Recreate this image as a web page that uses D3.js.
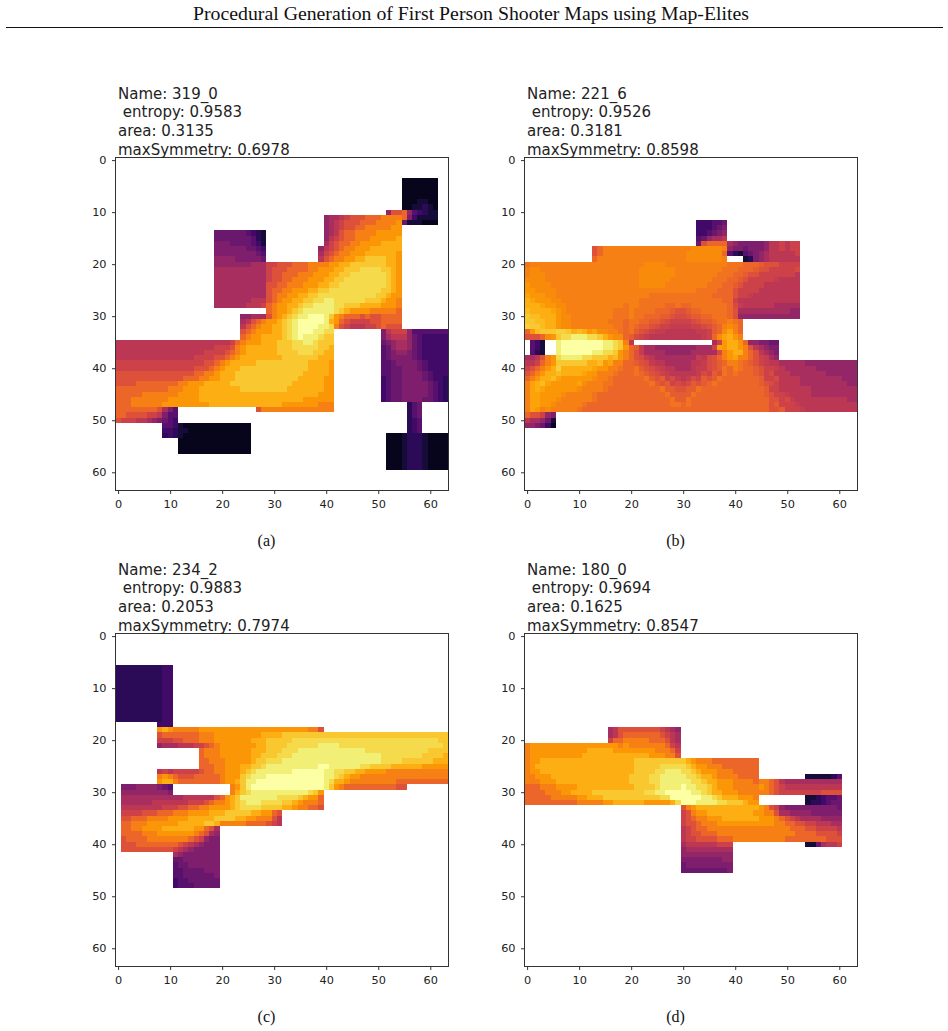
<!DOCTYPE html>
<html>
<head>
<meta charset="utf-8">
<script src="https://cdnjs.cloudflare.com/ajax/libs/d3/7.8.5/d3.min.js"></script>
<style>
html,body{margin:0;padding:0;background:#fff}
svg{display:block}
</style>
</head>
<body>
<svg id="page" width="948" height="1031"></svg>
<script>
// Paper header and sub-figure captions.
const pageTitle = "Procedural Generation of First Person Shooter Maps using Map-Elites";
const captions = ["(a)", "(b)", "(c)", "(d)"];

// Map-Elites descriptors of the four elite maps.
const names = ["319_0", "221_6", "234_2", "180_0"];
const entropy = ["0.9583", "0.9526", "0.9883", "0.9694"];
const area = ["0.3135", "0.3181", "0.2053", "0.1625"];
const maxSymmetry = ["0.6978", "0.8598", "0.7974", "0.8547"];
const tickValues = [0, 10, 20, 30, 40, 50, 60];

// Heat levels per grid row. '.' is a wall, 0-9 then a-k are the levels,
// a capital letter sits half a step above its lower-case level.
// "NN:" gives the column of a row's first character; spaces only group columns.
const firstRow = [4, 12, 6, 18];

const heat319 = [
"50:.....11111 11",
"50:.....11111 11",
"50:.....11111 11",
"50:.....11111 11",
"50:.....11122 11",
"50:.....11223 21",
"50:..8ccd8543 22",
"40:899abcccdd deeeed7422 22",
"40:89abcccddd eeeef62221 11",
"40:89abccddee eeeff",
"10:.........6 666665432. .......... 89acddeeee fffff",
"10:.........6 666666532. .......... 8abcddeeef ffffg",
"10:.........7 776666542. .......... 9bcddeefff fgggg",
"10:.........7 777776654. .........8 abcdeefffg ggggg",
"10:.........7 777777765. .........9 bcdeefffgg ggggf",
"10:.........8 888777776. .........a cdeeffgghh hhggf",
"10:.........8 888888999b bcccdddeee effgghhhhh hhggf",
"10:.........9 999999999b cccddddeef ffgghhhiii ihhgf",
"10:.........9 999999999b ccdddeeeff fgghhiiiii iihgf",
"10:.........9 999999999b ccddeeefff gghhiiiiii iihgf",
"10:.........9 999999999c cddeeefffg ghhiiiiiii iihgf",
"10:.........9 999999999c ddeefffggh hiiiiiiiii ihhgf",
"10:.........9 999999999c deeffgghhi iiiiiiiiii hhgff",
"10:.........9 999999aaac deffgghhii jjiiiiiihh hgffe",
"10:.........9 99999aaabd effgghiijj jjiihhhggg gfffe",
"20:.........d effghijjjj jjihgffffe eeeed",
"20:....88999c efghijjkkk jhfedddcdc cdddd",
"20:....9acdef fghijkkkkk jgfdcbbbbc cdddd",
"20:....acdeff gghijkkkkj jiecbaaabb cdccc",
"20:....cdefff gghijkkkjj ii........ .7abbb8555 5555",
"20:....deffgg gghijkjjji hh........ .79aaa8654 4444",
"aaaaaaaaaa aaaaaaaaaa aabdefffgg ghhhiijjih hh........ .678998654 4444",
"aaaaaaaaaa aaaaaaaaab bbcefggggg ghhhiiiiih hg........ .568998654 4444",
"aaaaaaaaaa aaaaaaabbb bcdefggggg ghhhhiiihh gg........ .567887654 4444",
"aaaaaaaaaa aaaaabbbbc cdefgggggg gghhhhhhhg gg........ .567777654 4444",
"bbbbbbbbbb bbbbbbbccd efggggghhh hhhhhhhggg gf........ .556777765 4444",
"bbbbbbbbbb bbbbbcccde fggghhhhhh hhhhhhhggg gf........ .556677765 4444",
"cccccccccc cccccddeef ggghhhhhhh hhhhhhgggg gf........ .556677776 5444",
"cccccccccc cccdddeeff ggghhhhhhh hhhhhggggg ff........ .456677776 5443",
"ccccdddddd ddeefffggg gghhhhhhhh hhhhgggggg ff........ .456677777 6543",
"dddddddddd eeefffgggg gggghhhhhh hhhggggggg ff........ .456677777 6543",
"dddddeeeee eeffffgggg gggggggggg gggggggggf ff........ .456677777 6543",
"dddeeeeeee ffffffgggg gggggggggg ggggggffff ff........ .456677776 6543",
"dddeeeeeef ffffffffgg gggggggggg ggfffffffe ee........ ......356.",
"ddddddddc9 75........ .......cee eeeeeeeeee ee........ ......356.",
"ddccccbba7 55........ .......... .......... .......... ......356.",
"cbbbaa9876 54........ .......... .......... .......... ......345.",
".........5 5421111111 111111.... .......... .......... ......345.",
".........4 4322111111 111111.... .......... .......... ......345.",
".........3 4321111111 111111.... .......... .......... ..11123332 1111",
"10:..11111111 111111.... .......... .......... ..11123332 1111",
"10:..11111111 111111.... .......... .......... ..11123332 1111",
"10:..11111111 111111.... .......... .......... ..11123332 1111",
"50:..11123332 1111",
"50:..11123332 1111",
"50:..11123332 1111"
];

const heat221 = [
"30:...444556",
"30:...444567",
"30:...445678",
"30:...56899a",
"30:...6cdddd9 8777778aab abb",
"10:...cdeeeee eeeeeeeeee eeEEEEEEe8 7767778aab abb",
"10:...cdeeeee eeeeeeeeee eEEEEEEEd5 3256789aaa aab",
"10:...deeeeee eeeeeeeeee eEEEEEEEe. ..23789aaa aaa",
"Deeeeeeeee eeeeeeeeee eeeEEEEeee eeeeeeeeeD DDdddCcccb bbb",
"eEEeeeeeee eeeeeeeeee eeEEEEEEEe eeeeeeeeDD DdddCccbbb bbB",
"eEEEeeeeee eeeeeeeeee eeEEEEEEEe eeeeeeeDDD ddCccbbbbb bba",
"EEEEeeeeee eeeeeeeeee eeEEEEEEee eeeeeeDDDd dCcbbbbbAa aaa",
"fEEEEeeeee eeeeeeeeee eeEEEEEeee eeeeeDDDdd Ccbbbbaaaa aaa",
"ffEEEEeeee eeeeeeeeee eeeeeeeeee eeeDDDDddd cbbbbaaaaa aaa",
"FfffEEeeee eeeeeeeeee eeeeDDDDDD DDDDDDdddd cbbAaaaaaa aaa",
"gFfffEEeee eeeeeeeeee eeDDDDDDDD DDDDDDDDdd baaaaaaaaa aaa",
"gggFffEEee eeeeeeeeeD eeDDDDDddD ddDDDDDDDd BAaaaaaa99 999",
"GggggFfEee eeeeeeeDDD eDDDDdddCc cCddDDDDDd c999999999 988",
"hGGgggfEEe eeeeeeeDDD eDDdddCCcB BcCCddDDDd c888888888 888",
"hhGGggfEEe eeeeeeDDDd DDddCCcBbb bbBcCCdDDe Dd",
"HhhGggfEEe eeeeeeeDDd DdCCcBbbAA AAbbBcCdeE ed",
"dfGhhhHHhg GgfFEEeeDd DCcBbAAaaa aaaAAbCdEF ed",
"cccdEfhiij jjiihgfEEd CBbAaaaaaa aaaaAbdEFg fe",
".542..jkkk kkkkkjjihe a......... ......9bfg gfd887766.",
".542..jkkk kkkkkjjihf dCA9988888 888999bFfg gfeca9877.",
".532..jkkk kkkjjiihfe dcA9999888 8899999Bef ggedca987.",
"99acefijjj jiihhhgGfe dcBAa99999 999AaBcdef FeedcbA98.",
"aabdefhhhh hhggGfFeed dCcBAaa999 99aaABcCde eDdCcbAaa9 9999888888 8888",
"bcdefgHggg gggFffeeDd dDCcBbAaa9 99aAABcCDd eDddCcbbAa 9999998888 8888",
"cdefggGggg gFffeeeDdd dDdCcBbAaa aaaABbCcDd DdddCcbBaa a999999988 8888",
"defggGFfff fffEeeDddd dddDCcCbBA aABbCcCDdd dddddCbbBa aaa9999999 9888",
"eFgGFfffff FEeeeDDddd ddddDCcCbB bBCcCdDddd dddddCcBba aaa9999999 9988",
"eFgFffffff EeeeeDdddd ddddddDCCc cCCDdddddd ddddddCbba aaaaa99999 9999",
"eFFffffEee eeeDdddddd dddddddDCC CCDddddddd ddddddCcbb Aaaaa99999 9999",
"eFFfffEeee eeeDdddddd ddddddddDC CDdddddddd dddddddccb BAaaaaaaaa aa99",
"eFFffEeeee eDdddddddd ddddddddDD dDdddddddd dddddddcCb bbAaaaaaaa aaaa",
"eFfeEeeeee Dddddddddd dddddddddd dddddddddd dddddddccC bbbAaaaaaa aaaa",
"dccb87",
"a99862",
"887641"
];

const heat234 = [
"3333333334 4",
"3333333334 4",
"3333333334 4",
"3333333334 4",
"3333333334 4",
"3333333334 4",
"3333333334 4",
"3333333334 4",
"3333333334 4",
"3333333334 4",
"3333333334 4",
"........44 4",
"........fg feeeeeffff ffffffffff fffffffeec",
"........cd ddddddeeef ffffffffgg gghhhhhhhh hhhhhhhhhh hhhhhhhhhh hhhh",
"........bb bccdddeeef ffffffgggh hhhhiiiiii iiiiiiiiii iiiiiiiiii iihh",
"........89 99aaabbcde fffffffggh hhhiiiiiij jjjiiiiiii iiiiiiiiii iiih",
"10:......deee ffffffgggh hhiiijjjjj jjjjjjjjii iiiiiiiiii hhhh",
"10:......deee ffffffgghh hiiijjjjjj jjjjjjjjjj jiiiiiiiih hhhg",
"10:......ddee efffffghhi iijjjjjjjj jjjjjjjjjj jiiiihhhhh hggg",
"10:......ddde efffgghhij jjjjjjjjjk kjjjjjjiih hhhggggggf ffff",
"........ab abbbbbcdde efffghijjj jjjjkkkkkk jjiihhggff ffeeeeeeee eeee",
"........ef edcccddddd efffhijjjk kkkkkkkkkk jjihgffeee eeeeeeeeee eeee",
"........fg gedddddddd effghjjkkk kkkkkkkkkk jiggfeeeee eeeedddddd dddd",
".777888876 5......... ..efhjkkkk kkkkkkkkkk jhfedddddd ddddcc",
".888888888 7......... ..eghijjjj jjjjjjjihf",
".999999999 999aaaaaac dfghjjjjjj jiiiihgffd",
".999999aaa aaaabbbcde efghijjjii iihhgfeeed",
".aaaaaaaab bbccddeeff ffghiiiihh hhggfeeddc",
".bbbbcccdd deeeffffgg ghhhhhggff dc",
".ccdddeeee ffffgggggh hhhggffeee ca",
".ddeeeffff ffggggghhg eeeeeddddc ba",
".ddeeffffg gggggffdc9",
".ddddeeeff fffffedc98",
".cddddeeee eeeedcb877",
".cccdddddd ddcba98777",
".ccccccccc cba9877777",
"10:.987777777",
"10:.667777777",
"10:.566777777",
"10:.556666777",
"10:.556666667",
"10:.455666666",
"10:.455566666"
];

const heat180 = [
"10:......9acc ccccccba98",
"10:......9acd ddddddcba9",
"10:......bdde eeeedddca9",
"efffffffff ffffffffef eeeeeeedba",
"efffffffff ffgggggfff fffffeeedb",
"efffffffff fggggggggg ggggfffeec",
"effggggggg gggggggggg ghhhhhhhhh hgfeeedddd ddddd",
"efgggggggg gggggggggg ghhhhhiiii ihgffeeedd ddddd",
"effggggggg gggggggggg ghhhhiijjj iihgfffeee ddddd",
"eefffggggg gggggggggg hhhhiijjjj jiihggfeee edddd..... ....222223 5",
"eeefffgggg gggggggggg hhhhiijjjj jjiihggfff eeeedeedca 9999999999 9",
"dddeeeffff gggggggggg ghhhhijjjj kjjiihgfff eeeeefedcb aaaaaaaaaa a",
"ddddeeeffg ggghhhhhhh hhhiijjkkk kkjjihggff feeeeeedcb bbbbbbbccc c",
"dddddeeeee ffggghhhhh hhhhhhiikk kkkkjjihgg gfffe..... ....223455 6",
"dddddddddd eeeeeffggg gggfffffgi kkkjjjjiih hhgff..... ....233456 6",
"30:cefggggggg gggggfecb8 7777777777 6",
"30:bceffggggg ggggffeec9 9888877777 7",
"30:bcdeefffgg gggggfffed cba9999888 8",
"30:bccdeeefff ffffffffee ddccbbaaa9 9",
"30:abcddeeeee eeeeeeeeee edddccbbbb a",
"30:abccdddeee eeeeeeeeee eeddddcccc b",
"30:abbccccddd eeeeeeeeee ddddddddcc c",
"30:9aaaaaabbb .......... ....2269aa b",
"30:8999999999",
"30:8888888888",
"30:7777777788",
"30:6777777777",
"30:6666666667"
];

const heatRows = [heat319, heat221, heat234, heat180];

// Position on the inferno ramp for each level.
const levelChars = "0123456789abcdefghijk";
const levelRamp = [0.02, 0.05, 0.1, 0.15, 0.2, 0.25, 0.3, 0.35, 0.4, 0.45, 0.5, 0.55, 0.6, 0.66, 0.72, 0.77, 0.82, 0.87, 0.91, 0.95, 1];
const gridSize = 64;

const panelLeft = [115.5, 524.5, 115.5, 524.5];
const panelTop = [157.5, 157.5, 633.5, 633.5];
const panelSize = 333;

const svg = d3.select("#page");

// Running header
svg.append("text")
  .attr("x", 471).attr("y", 20)
  .attr("text-anchor", "middle")
  .attr("font-family", "'Liberation Serif'")
  .attr("font-size", 19.8)
  .attr("fill", "#111")
  .text(pageTitle);
svg.append("line")
  .attr("x1", 6).attr("x2", 943).attr("y1", 27.5).attr("y2", 27.5)
  .attr("stroke", "#111").attr("stroke-width", 1.2);

const ramp = d3.scaleLinear().domain(levelRamp.map((_, i) => i)).range(levelRamp);
const color = v => d3.interpolateInferno(ramp(v));

function levelOf(ch) {
  const lower = ch.toLowerCase();
  return levelChars.indexOf(lower) + (ch !== lower ? 0.5 : 0);
}

function parseRow(s) {
  const m = s.match(/^(\d+):(.*)$/);
  const col = m ? +m[1] : 0;
  const body = (m ? m[2] : s).replace(/ /g, "");
  return Array.from(body).map((ch, i) => ({ col: col + i, ch })).filter(d => d.ch !== ".");
}

names.forEach((name, p) => {
  const x = d3.scaleLinear().domain([-0.5, gridSize - 0.5]).range([0, panelSize]);
  const y = d3.scaleLinear().domain([-0.5, gridSize - 0.5]).range([0, panelSize]);
  const g = svg.append("g").attr("transform", `translate(${panelLeft[p]},${panelTop[p]})`);

  const cells = heatRows[p].flatMap((s, i) =>
    parseRow(s).map(d => ({ row: firstRow[p] + i, col: d.col, level: levelOf(d.ch) })));

  g.append("g").attr("shape-rendering", "crispEdges")
    .selectAll("rect").data(cells).join("rect")
    .attr("x", d => x(d.col - 0.5))
    .attr("y", d => y(d.row - 0.5))
    .attr("width", x(1) - x(0))
    .attr("height", y(1) - y(0))
    .attr("fill", d => color(d.level));

  g.append("rect")
    .attr("width", panelSize).attr("height", panelSize)
    .attr("fill", "none").attr("stroke", "#333").attr("stroke-width", 1);

  const xAxis = d3.axisBottom(x).tickValues(tickValues).tickSize(3.5).tickPadding(6).tickFormat(d3.format("d"));
  const yAxis = d3.axisLeft(y).tickValues(tickValues).tickSize(3.5).tickPadding(5.5).tickFormat(d3.format("d"));
  const ax = g.append("g").attr("transform", `translate(0,${panelSize})`).call(xAxis);
  const ay = g.append("g").call(yAxis);
  [ax, ay].forEach(a => {
    a.select(".domain").remove();
    a.selectAll("line").attr("stroke", "#333");
    a.selectAll("text").attr("font-family", "'DejaVu Sans'").attr("font-size", 11.3).attr("fill", "#222");
  });

  const lines = [`Name: ${name}`, ` entropy: ${entropy[p]}`, `area: ${area[p]}`, `maxSymmetry: ${maxSymmetry[p]}`];
  g.selectAll("text.head").data(lines).join("text")
    .attr("class", "head")
    .attr("x", 2.5)
    .attr("y", (d, i) => -59 + i * 18.7)
    .attr("font-family", "'DejaVu Sans'")
    .attr("font-size", 15)
    .attr("fill", "#222")
    .style("white-space", "pre")
    .text(d => d);

  g.append("text")
    .attr("x", panelSize / 2 - 15.5)
    .attr("y", panelSize + 55)
    .attr("text-anchor", "middle")
    .attr("font-family", "'Liberation Serif'")
    .attr("font-size", 16)
    .attr("fill", "#111")
    .text(captions[p]);
});
</script>
</body>
</html>
